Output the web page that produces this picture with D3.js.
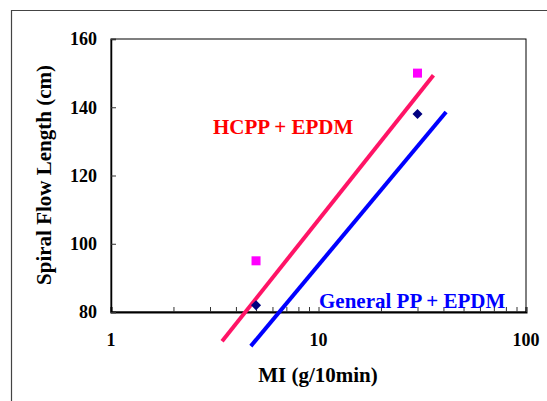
<!DOCTYPE html>
<html lang="en">
<head>
    <meta charset="UTF-8">
    <title>Spiral Flow Length vs MI</title>
    <script src="https://d3js.org/d3.v7.min.js"></script>
    <style>
        body { margin: 0; background: #fff; }
    </style>
</head>
<body>
    <svg id="chart"></svg>
    <script>
        // measured points
        const hcppMI = [5, 30];
        const hcppFlow = [95, 150];
        const generalMI = [5, 30];
        const generalFlow = [82, 138];

        // hand-drawn guide lines (ends)
        const hcppLineMI = [3.43, 35.8];
        const hcppLineFlow = [71.4, 149.4];
        const generalLineMI = [4.72, 41.2];
        const generalLineFlow = [70.0, 138.6];

        const yTicks = [80, 100, 120, 140, 160];
        const xLabels = [1, 10, 100];

        const serif = "'Liberation Serif', 'DejaVu Serif', 'Times New Roman', serif";

        const width = 547, height = 401;
        const margin = { top: 39, right: 21, bottom: 89, left: 111 };
        const w = width - margin.left - margin.right;
        const h = height - margin.top - margin.bottom;

        const svg = d3.select("#chart")
            .attr("width", width)
            .attr("height", height)
            .attr("font-family", serif)
            .attr("font-weight", "bold");

        // outer frame
        svg.append("path")
            .attr("d", "M11.5," + height + "V10.5H" + width)
            .attr("fill", "none")
            .attr("stroke", "#444")
            .attr("stroke-width", 1.2);

        const g = svg.append("g")
            .attr("transform", "translate(" + margin.left + "," + margin.top + ")");

        const x = d3.scaleLog().domain([1, 100]).range([0, w]);
        const y = d3.scaleLinear().domain([80, 160]).range([h, 0]);

        // plot box
        g.append("rect")
            .attr("x", 0).attr("y", 0)
            .attr("width", w).attr("height", h)
            .attr("fill", "none")
            .attr("stroke", "#000")
            .attr("stroke-width", 1);

        // x axis: ticks point up into the plot
        const xAxis = g.append("g")
            .attr("transform", "translate(0," + h + ")")
            .call(d3.axisTop(x).tickValues(x.ticks()).tickSize(5).tickFormat(""));
        xAxis.select(".domain").attr("stroke", "#000").attr("stroke-width", 2);
        xAxis.selectAll(".tick line").attr("stroke", "#333");

        g.selectAll(".xlab")
            .data(xLabels)
            .enter().append("text")
            .attr("class", "xlab")
            .attr("x", d => x(d))
            .attr("y", h + 34)
            .attr("text-anchor", "middle")
            .attr("font-family", serif)
            .attr("font-size", 18)
            .text(d => d);

        // y axis: ticks point right into the plot
        const yAxis = g.append("g")
            .call(d3.axisRight(y).tickValues(yTicks).tickSize(5).tickFormat(""));
        yAxis.select(".domain").attr("stroke", "#000").attr("stroke-width", 1.5);
        yAxis.selectAll(".tick line").attr("stroke", "#333");

        g.selectAll(".ylab")
            .data(yTicks)
            .enter().append("text")
            .attr("class", "ylab")
            .attr("x", -14)
            .attr("y", d => y(d))
            .attr("dy", "0.35em")
            .attr("text-anchor", "end")
            .attr("font-family", serif)
            .attr("font-size", 18)
            .text(d => d);

        // axis titles
        svg.append("text")
            .attr("x", 318)
            .attr("y", 382)
            .attr("text-anchor", "middle")
            .attr("font-family", serif)
            .attr("font-size", 21)
            .text("MI (g/10min)");

        svg.append("text")
            .attr("transform", "translate(51,175) rotate(-90)")
            .attr("text-anchor", "middle")
            .attr("font-family", serif)
            .attr("font-size", 21)
            .text("Spiral Flow Length (cm)");

        // guide lines (not clipped, they run past the axis)
        const line = d3.line()
            .x(d => x(d[0]))
            .y(d => y(d[1]));

        g.append("path")
            .datum(d3.zip(hcppLineMI, hcppLineFlow))
            .attr("d", line)
            .attr("fill", "none")
            .attr("stroke", "#ff1466")
            .attr("stroke-width", 4);

        g.append("path")
            .datum(d3.zip(generalLineMI, generalLineFlow))
            .attr("d", line)
            .attr("fill", "none")
            .attr("stroke", "#0000ff")
            .attr("stroke-width", 4);

        // markers
        g.selectAll(".sq")
            .data(d3.zip(hcppMI, hcppFlow))
            .enter().append("rect")
            .attr("class", "sq")
            .attr("x", d => x(d[0]) - 4.5)
            .attr("y", d => y(d[1]) - 4.5)
            .attr("width", 9)
            .attr("height", 9)
            .attr("fill", "#ff00ff");

        g.selectAll(".dm")
            .data(d3.zip(generalMI, generalFlow))
            .enter().append("path")
            .attr("class", "dm")
            .attr("transform", d => "translate(" + x(d[0]) + "," + y(d[1]) + ")")
            .attr("d", "M0,-5L5,0L0,5L-5,0Z")
            .attr("fill", "#000080");

        // series labels
        svg.append("text")
            .attr("x", 213)
            .attr("y", 134)
            .attr("font-family", serif)
            .attr("font-size", 21)
            .attr("fill", "#ff0000")
            .text("HCPP + EPDM");

        svg.append("text")
            .attr("x", 319)
            .attr("y", 308)
            .attr("font-family", serif)
            .attr("font-size", 21)
            .attr("fill", "#0000ff")
            .text("General PP + EPDM");
    </script>
</body>
</html>
